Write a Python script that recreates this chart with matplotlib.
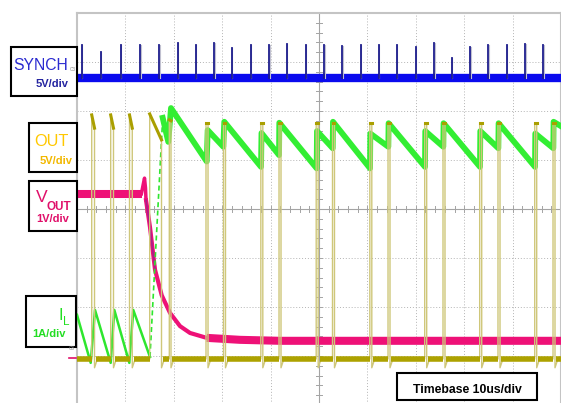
import matplotlib.pyplot as plt
from matplotlib import font_manager
from matplotlib.patches import Rectangle

# time in us (10 us/div), vertical in screen divisions (8 div, 0 = centre)
sync_base = 2.68
sync_t = [0.97, 4.90, 9.03, 13.02, 17.00, 20.81, 24.52, 28.31, 31.96, 35.89,
          39.67, 43.33, 47.25, 51.03, 54.75, 58.62, 62.33, 66.05, 69.98, 73.76,
          77.42, 81.20, 84.92, 88.78, 92.56, 96.28]
sync_top = [3.35, 3.21, 3.35, 3.35, 3.35, 3.38, 3.35, 3.38, 3.29, 3.35,
            3.35, 3.37, 3.35, 3.35, 3.33, 3.35, 3.35, 3.35, 3.31, 3.38,
            3.08, 3.31, 3.35, 3.35, 3.36, 3.35]

# OUT switch node pulses
out_low = -3.06
out_hook = -3.24
out_rise = [3.04, 6.96, 10.85, 15.02, 19.07, 26.65, 30.27, 37.98, 41.74, 49.42,
            52.79, 60.50, 64.26, 71.84, 75.62, 83.20, 86.98, 94.57, 98.35]
out_fall = [3.62, 7.54, 11.42, 17.46, 19.42, 27.07, 30.68, 38.39, 42.15, 49.83,
            53.20, 60.91, 64.67, 72.25, 76.03, 83.62, 87.40, 94.98, 98.76]
out_top0 = [1.92, 1.92, 1.92, 1.94, 1.82, 1.76, 1.76, 1.76, 1.76, 1.76,
            1.76, 1.76, 1.76, 1.76, 1.76, 1.76, 1.76, 1.76, 1.76]
out_top1 = [1.65, 1.65, 1.65, 1.41, 1.80, 1.76, 1.76, 1.76, 1.76, 1.76,
            1.76, 1.76, 1.76, 1.76, 1.76, 1.76, 1.76, 1.76, 1.76]

# VOUT
vout_t = [0, 13.43]
vout_v = [0.31, 0.31]
vspike_t = [13.30, 13.74, 13.95, 14.15, 14.26]
vspike_v = [0.31, 0.53, 0.63, 0.43, 0.18]
vdrop_t = [14.26, 15.08, 16.12, 17.50, 19.21, 21.28, 23.35, 26.80]
vdrop_v = [0.18, -0.37, -1.24, -1.76, -2.12, -2.39, -2.53, -2.63]
vend_t = [26.80, 33.68, 41.94, 100]
vend_v = [-2.63, -2.67, -2.69, -2.69]

# IL
il1_t = [0, 2.83, 3.72, 6.96, 7.71, 10.81, 11.63, 15.08]
il1_v = [-2.16, -3.14, -2.06, -3.14, -2.06, -3.14, -2.06, -3.02]
il_ramp_t = [15.08, 17.71]
il_ramp_v = [-3.02, 1.86]
il2_t = [17.71, 18.86, 19.42, 26.80, 27.00, 30.23, 30.43, 38.02, 38.12, 41.74,
         41.80, 49.52, 49.59, 52.83, 52.89, 60.54, 60.60, 64.32, 64.38, 71.90,
         71.96, 75.68, 75.74, 83.26, 83.33, 87.05, 87.11, 94.63, 94.69, 98.41,
         98.47, 100]
il2_v = [1.86, 1.37, 2.06, 0.97, 1.61, 1.27, 1.78, 0.86, 1.55, 1.10,
         1.76, 0.83, 1.59, 1.24, 1.78, 0.83, 1.54, 1.27, 1.75, 0.86,
         1.59, 1.27, 1.75, 0.86, 1.59, 1.24, 1.75, 0.86, 1.54, 1.24,
         1.78, 1.69]

W, H = 561, 403
fig = plt.figure(figsize=(W / 100, H / 100), dpi=100)
ax = fig.add_axes([77 / W, -2 / H, 484 / W, 392 / H])
ax.set_xlim(0, 100)
ax.set_ylim(-4, 4)
ax.set_xticks([])
ax.set_yticks([])
for s in ax.spines.values():
    s.set_color('#c4c4c4')
    s.set_linewidth(1.5)

# graticule
for x in range(10, 100, 10):
    if x != 50:
        ax.axvline(x, color='#b4b4b4', lw=0.7, ls=(0, (1, 2)), zorder=1)
for y in [-3, -2, -1, 1, 2, 3]:
    ax.axhline(y, color='#b4b4b4', lw=0.7, ls=(0, (1, 2)), zorder=1)
ax.axvline(50, color='#a4a4a4', lw=0.8, zorder=1)
ax.axhline(0, color='#a4a4a4', lw=0.8, zorder=1)
for i in range(1, 50):
    ax.plot([i * 2, i * 2], [-0.06, 0.06], color='#a4a4a4', lw=0.7, zorder=1)
for i in range(-19, 20):
    ax.plot([49.4, 50.6], [i * 0.2, i * 0.2], color='#a4a4a4', lw=0.7, zorder=1)

# VOUT (magenta)
ax.plot(vout_t, vout_v, color='#ee1177', lw=5.8, solid_capstyle='butt', zorder=3)
ax.plot(vspike_t, vspike_v, color='#ee1177', lw=2.5, zorder=3)
ax.plot(vdrop_t, vdrop_v, color='#ee1177', lw=3.0, zorder=3)
ax.plot(vdrop_t[:3], vdrop_v[:3], color='#a8208a', lw=1.2, zorder=3)
ax.plot(vend_t, vend_v, color='#ee1177', lw=5.8, solid_capstyle='butt', zorder=3)

# IL (green)
ax.plot(il1_t, il1_v, color='#2ee62e', lw=1.8, zorder=4)
ax.plot(il_ramp_t, il_ramp_v, color='#2ee62e', lw=1.2, ls=(0, (3, 2)), zorder=4)
ax.plot(il2_t, il2_v, color='#33ee33', lw=4.2, zorder=4)

# OUT (olive)
xs, ys = [0], [out_low]
for r, f, a, b in zip(out_rise, out_fall, out_top0, out_top1):
    xs += [r, r, f, f, f + 0.6]
    ys += [out_low, a, b, out_hook, out_low]
xs.append(100)
ys.append(out_low)
ax.plot(xs, ys, color='#cfc77a', lw=1.0, zorder=5)
for r, f, a, b in zip(out_rise, out_fall, out_top0, out_top1):
    ax.plot([r, f], [a, b], color='#aa9f00', lw=2.2, zorder=5)
starts = [0] + [f + 0.3 for f in out_fall]
ends = out_rise + [100]
for a, b in zip(starts, ends):
    ax.plot([a, b], [out_low, out_low], color='#ada200', lw=4.0,
            solid_capstyle='butt', zorder=5)

# SYNCH (blue)
ax.plot([0, 100], [sync_base, sync_base], color='#0a0aee', lw=6.0,
        solid_capstyle='butt', zorder=6)
for t, top in zip(sync_t, sync_top):
    ax.plot([t + 0.15, t + 0.15], [sync_base, top], color='#c0c0d0', lw=0.8, zorder=6)
    ax.plot([t, t], [sync_base, top], color='#1c1c8c', lw=1.3, zorder=7)

# labels: scope uses a narrow face; shrink if none installed
names = {f.name for f in font_manager.fontManager.ttflist}
if 'Liberation Sans Narrow' in names:
    fonts = ['Liberation Sans Narrow', 'DejaVu Sans']
    k = 1.0
else:
    fonts = ['Liberation Sans', 'DejaVu Sans']
    k = 0.84


def box(x0, y0, x1, y1):
    fig.add_artist(Rectangle((x0 / W, 1 - y1 / H), (x1 - x0) / W, (y1 - y0) / H,
                             transform=fig.transFigure, fill=True, fc='white',
                             ec='black', lw=1.5, zorder=10))


def label(x, y, s, color, size, weight='normal', ha='right'):
    fig.text(x / W, 1 - y / H, s, color=color, fontsize=size * k,
             fontweight=weight, ha=ha, va='baseline', family=fonts, zorder=11)


box(10.7, 46.7, 76.5, 96)
label(68.3, 70, 'SYNCH', '#2b2bd0', 13.5)
label(68.3, 87.3, '5V/div', '#2424a0', 9.5, 'bold')
label(70, 71, 'C3', '#888888', 4, ha='left')

box(29.3, 122.7, 76.5, 171.7)
label(69, 145.7, 'OUT', '#ffc800', 14)
label(72.7, 164, '5V/div', '#f2b800', 9.5, 'bold')

box(29.3, 180.7, 76.5, 230.7)
label(47.5, 202, 'V', '#e0106a', 15, ha='right')
label(46.7, 210, 'OUT', '#e0106a', 10, 'bold', ha='left')
label(69, 221.7, '1V/div', '#e0106a', 9.5, 'bold')

box(26, 296, 76.5, 346.7)
label(63.5, 320, 'I', '#22e022', 14)
label(63.5, 325, 'L', '#22e022', 10, ha='left')
label(66, 337.3, '1A/div', '#22dd22', 9.5, 'bold')

# ground marker left of the screen
label(69, 350, 'C8', '#888888', 4, ha='left')
fig.add_artist(plt.Line2D([69 / W, 76 / W], [1 - 357.5 / H, 1 - 357.5 / H],
                          transform=fig.transFigure, color='#e0106a', lw=1.2))

box(397.3, 373.3, 536.7, 400)
label(467, 393, 'Timebase 10us/div', 'black', 10.5, 'bold', ha='center')

fig.savefig('out.png', dpi=100)
